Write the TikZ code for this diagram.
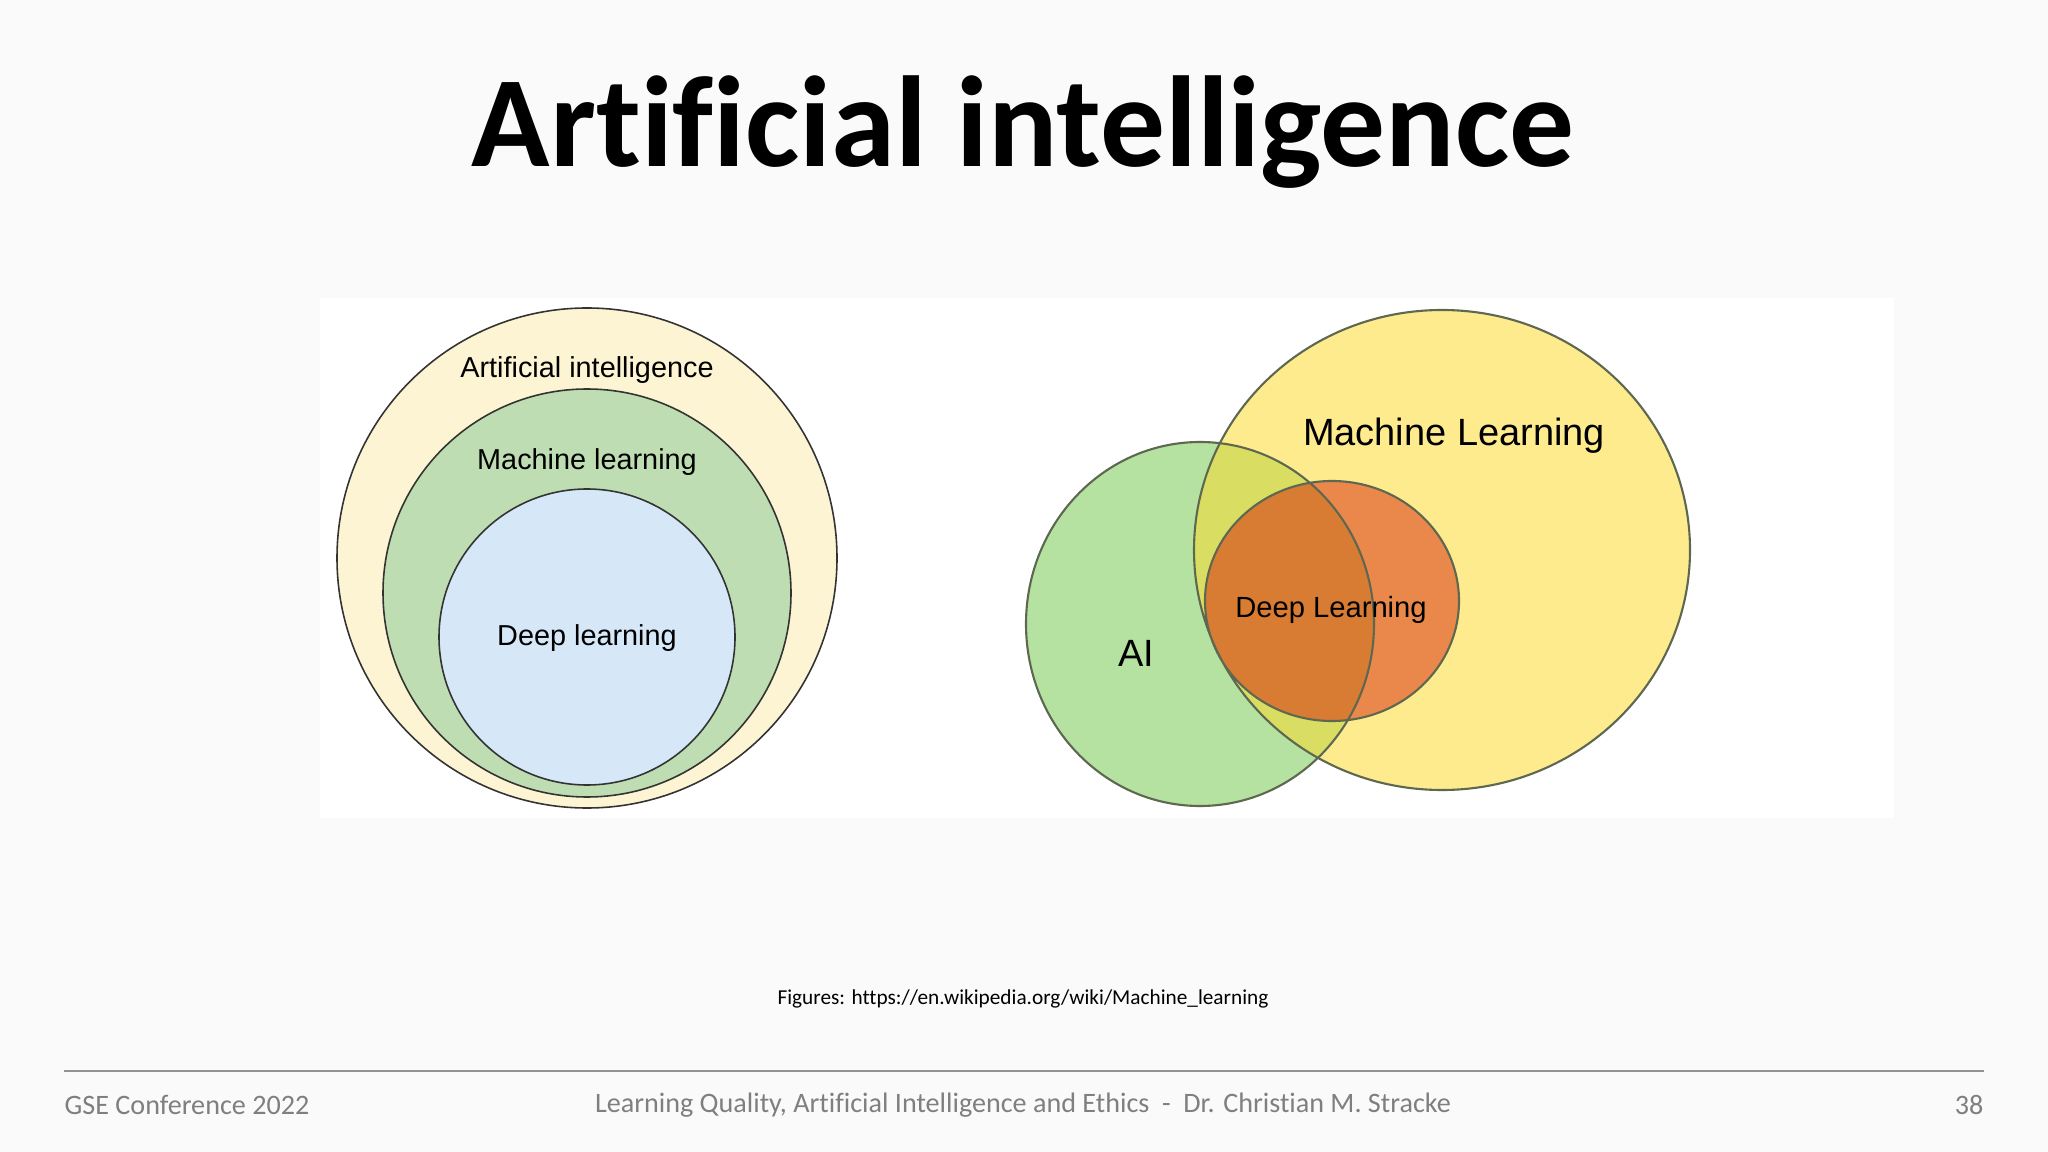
\documentclass[tikz,border=0pt]{standalone}
\usepackage{fontspec}
\setmainfont[Ligatures=NoCommon]{Carlito}
\newfontfamily\arial{Liberation Sans}
\definecolor{fond}{HTML}{FAFAFA}
\definecolor{creme}{HTML}{FDF4D3}
\definecolor{vertml}{HTML}{BFDDB2}
\definecolor{bleudl}{HTML}{D6E7F8}
\definecolor{vertia}{HTML}{B5E2A0}
\definecolor{jaune}{HTML}{FDEB8E}
\definecolor{jaunevert}{HTML}{D9DE62}
\definecolor{orangedl}{HTML}{EA874A}
\definecolor{orangefonce}{HTML}{D87C33}
\definecolor{trait}{HTML}{5E6850}
\definecolor{gris}{HTML}{7F7F7F}
\newcommand{\taille}[1]{\fontsize{#1}{#1}\selectfont}
\newcommand{\rond}[2]{\filldraw[fill=#1,draw=black!80,line width=0.45pt] (587,#2)}
\newcommand{\ia}{(1200,624) ellipse (174 and 182)}
\newcommand{\ml}{(1442,550) ellipse (248 and 240)}
\newcommand{\dl}{(1332,601) ellipse (127 and 120)}

\begin{document}
\begin{tikzpicture}[x=0.01cm,y=-0.01cm,inner sep=0pt]
	\fill[fond] (0,0) rectangle (2048,1152);
	\useasboundingbox (0,0) rectangle (2048,1152);
	\fill[white] (320,298) rectangle (1894,818);
	\node[font=\bfseries\taille{36.8}, anchor=base] (titre) at (1023,167) {Artificial intelligence};

	\rond{creme}{558} circle (250);
	\rond{vertml}{593} circle (204);
	\rond{bleudl}{637} circle (148);
	\node[font=\arial\taille{8.2}] (iagauche) at (587,370) {Artificial intelligence};
	\node[font=\arial\taille{8.2}] (mlgauche) at (587,462) {Machine learning};
	\node[font=\arial\taille{8.2}] (dlgauche) at (587,638) {Deep learning};

	\fill[vertia] \ia;
	\fill[jaune] \ml;
	\begin{scope}
		\clip \ia;
		\fill[jaunevert] \ml;
	\end{scope}
	\fill[orangedl] \dl;
	\begin{scope}
		\clip \ia;
		\fill[orangefonce] \dl;
	\end{scope}
	\draw[trait,line width=0.6pt] \ia \ml \dl;
	\node[font=\arial\taille{10.8}] (mldroite) at (1454,436) {Machine Learning};
	\node[font=\arial\taille{8.3}] (dldroite) at (1331,610) {Deep Learning};
	\node[font=\arial\taille{10.8}] (iadroite) at (1136,653) {AI};

	\node[font=\taille{6.05}] (source) at (1023,999) {Figures: https://en.wikipedia.org/wiki/Machine\_learning};

	\coordinate (lg) at (64,1071);
	\coordinate (ld) at (1984,1071);
	\draw[gris!85,line width=0.7pt] (lg) -- (ld);
	\node[gris,font=\taille{8},anchor=west] (conf) at (64,1105) {GSE Conference 2022};
	\node[gris,font=\taille{8}] (pied) at (1023,1105) {Learning Quality, Artificial Intelligence and Ethics\ \ -\ \ Dr. Christian M. Stracke};
	\node[gris,font=\taille{8},anchor=east] (page) at (1984,1105) {38};
\end{tikzpicture}
\end{document}
